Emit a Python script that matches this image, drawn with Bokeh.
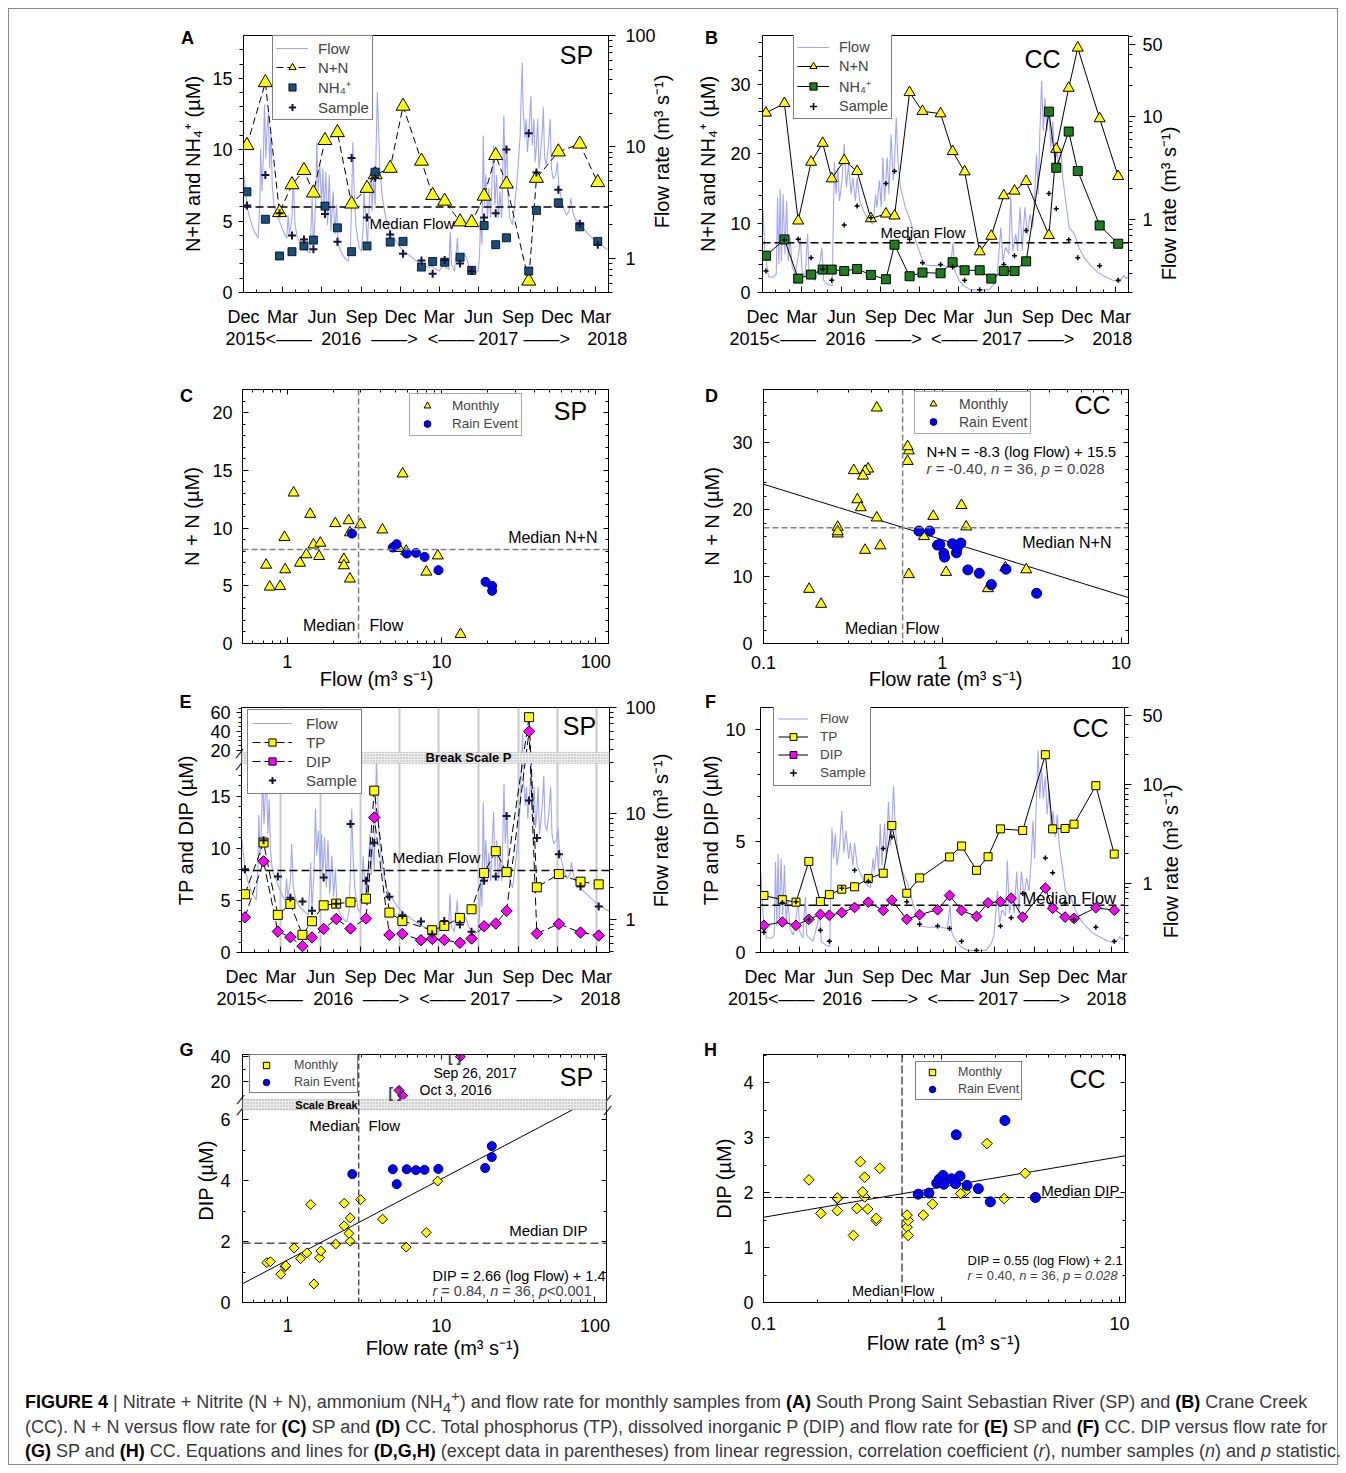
import numpy as np
import pandas as pd
from bokeh.plotting import figure
from bokeh.models import (Range1d, LogScale, LinearAxis, LogAxis, FixedTicker,
                          CustomJSTickFormatter, Label, Legend, LegendItem,
                          BoxAnnotation, Span, Div)
from bokeh.layouts import column, row
from bokeh.embed import file_html
from bokeh.resources import INLINE

FONT = "Liberation Sans"

# ====================== DATA ======================
T0 = "2015-12-01"

# --- South Prong (SP) monthly samples ---
sp_dates = ["2015-12-09", "2016-01-21", "2016-02-23", "2016-03-23", "2016-04-20",
            "2016-05-12", "2016-06-08", "2016-07-07", "2016-08-09", "2016-09-14",
            "2016-10-03", "2016-11-07", "2016-12-07", "2017-01-19", "2017-02-14",
            "2017-03-14", "2017-04-19", "2017-05-16", "2017-06-14", "2017-07-11",
            "2017-08-05", "2017-09-26", "2017-10-14", "2017-12-04", "2018-01-23",
            "2018-03-06"]
sp_sample_flow = [2.98, 5.6, 2.55, 1.61, 1.48, 1.21, 2.5, 1.41, 7.98, 2.33, 5.3, 1.64, 1.1,
                  0.96, 0.73, 0.97, 0.90, 0.77, 2.33, 2.55, 9.47, 13.3, 5.9, 4.14, 2.05, 1.33]
sp_nn = [10.3, 14.7, 5.6, 7.55, 8.55, 6.97, 10.65, 11.2, 6.2, 7.3, 8.25, 8.7, 13.05,
         9.2, 6.8, 6.4, 4.95, 4.9, 6.75, 9.6, 7.6, 0.8, 8.0, 9.85, 10.4, 7.7]
sp_nh4 = [7.05, 5.13, 2.56, 2.86, 3.26, 3.67, 6.05, 4.53, 2.86, 3.26, 8.43, 3.53, 3.58,
          1.78, 2.17, 2.12, 2.47, 1.55, 4.69, 3.35, 3.83, 1.5, 5.75, 6.28, 4.6, 3.58]
sp_tp = [5.59, 10.56, 3.61, 4.66, 1.69, 3.0, 4.53, 4.69, 4.82, 5.17, 15.54, 3.83, 3.03,
         np.nan, 2.14, 2.55, 3.32, 4.15, 7.63, 9.73, 7.72, 55.3, 6.26, 7.53, 6.8, 6.54]
sp_dip = [3.38, 8.75, 2.01, 1.47, 0.61, 1.44, 2.27, 3.22, 2.3, 3.26, 12.96, 1.69, 1.79,
          1.18, 1.31, 1.21, 0.93, 1.34, 2.52, 2.78, 3.99, 40.0, 1.82, 2.74, 1.92, 1.63]
# SP rain events
sp_rain_flow = [2.63, 4.83, 5.12, 5.95, 6.83, 7.77, 9.56, 19.3, 21.3, 21.3]
sp_rain_nn = [9.52, 8.31, 8.6, 7.79, 7.85, 7.5, 6.35, 5.34, 4.99, 4.56]
sp_rain_dip = [4.22, 4.38, 3.89, 4.38, 4.35, 4.36, 4.39, 4.42, 5.14, 4.78]

# --- Crane Creek (CC) monthly samples ---
cc_dates = ["2015-12-09", "2016-01-21", "2016-02-22", "2016-03-23", "2016-04-19",
            "2016-05-10", "2016-06-08", "2016-07-08", "2016-08-09", "2016-09-13",
            "2016-10-03", "2016-11-07", "2016-12-07", "2017-01-18", "2017-02-15",
            "2017-03-15", "2017-04-19", "2017-05-16", "2017-06-14", "2017-07-09",
            "2017-08-05", "2017-09-27", "2017-10-14", "2017-11-12", "2017-12-03",
            "2018-01-23", "2018-03-07"]
cc_sample_flow = [0.32, 0.64, 0.65, 0.43, 0.335, 0.26, 0.89, 1.36, 1.05, 2.25, 2.95, 0.65,
                  0.385, 0.37, 0.35, 0.26, 0.21, 0.18, 0.37, 0.45, 0.79, 1.80, 1.28, 0.64,
                  0.43, 0.36, 0.26]
cc_nn = [25.85, 27.23, 10.32, 18.78, 21.5, 16.39, 19.02, 17.44, 10.65, 11.32, 11.04, 28.81,
         26.09, 25.75, 20.31, 17.39, 5.88, 8.12, 13.95, 14.62, 16.0, 8.22, 20.64, 29.43,
         35.21, 25.04, 16.72]
cc_nh4 = [5.3, 7.64, 2.0, 2.58, 3.3, 3.3, 3.1, 3.39, 2.53, 1.91, 6.88, 2.34, 2.87, 2.77,
          4.35, 3.2, 3.2, 2.0, 3.1, 3.1, 4.49, 26.04, 17.96, 23.17, 17.49, 9.65, 7.02]
cc_tp = [2.56, 2.37, 2.26, 4.09, 2.29, 2.6, 2.84, 2.95, 3.32, 3.56, 5.7, 2.66, 3.35, np.nan,
         4.29, 4.78, 3.69, 4.3, 5.55, np.nan, 5.48, 8.88, 5.55, 5.57, 5.76, 7.49, 4.42]
cc_dip = [1.22, 1.37, 1.22, 1.49, 1.71, 1.67, 1.79, 2.02, 2.26, 1.89, 2.35, 1.49, 1.7, 1.92,
          2.56, 1.89, 1.62, 2.23, 2.28, 2.44, 1.59, 2.89, 1.98, 1.59, 1.53, 2.01, 1.9]
# CC rain events
cc_rain_flow = [0.74, 0.85, 0.94, 0.97, 1.02, 1.03, 1.14, 1.20, 1.21, 1.27, 1.39, 1.61,
                1.88, 2.27, 3.37]
cc_rain_nn = [16.8, 16.8, 14.7, 14.8, 13.45, 12.9, 14.9, 13.55, 14.2, 15.0, 11.0, 10.5,
              8.8, 11.1, 7.5]
cc_rain_dip = [1.97, 1.99, 2.17, 2.24, 2.31, 2.15, 2.25, 2.16, 3.05, 2.3, 2.13, 2.07,
               1.83, 3.31, 1.91]

# --- daily flow (days since 2015-12-01), m3/s ---
sp_flow_day = [1, 5, 9, 17, 25, 34, 38, 40, 43, 46, 49, 52, 55, 58, 61, 64, 67, 71, 78, 84,
               90, 96, 101, 104, 107, 113, 116, 120, 126, 134, 141, 149, 155, 160, 163, 168,
               171, 174, 178, 182, 185, 188, 192, 196, 200, 204, 209, 213, 217, 221, 227,
               233, 239, 244, 249, 252, 255, 258, 262, 266, 270, 275, 279, 281, 285, 289,
               293, 297, 300, 303, 307, 309, 312, 315, 318, 323, 329, 335, 343, 353, 363,
               374, 386, 398, 409, 421, 433, 440, 448, 456, 464, 468, 471, 479, 482, 485,
               492, 499, 502, 508, 514, 520, 527, 534, 541, 547, 550, 553, 556, 559, 562,
               565, 569, 572, 576, 580, 583, 586, 590, 594, 598, 602, 605, 607, 610, 614,
               617, 621, 627, 632, 637, 641, 645, 648, 650, 652, 656, 659, 662, 665, 668,
               670, 673, 677, 680, 683, 686, 689, 693, 697, 699, 702, 706, 711, 715, 718,
               722, 728, 732, 735, 741, 747, 753, 759, 763, 767, 772, 778, 786, 798, 809,
               821, 833, 840, 850]
sp_flow = [5.6, 4.0, 2.8, 2.15, 1.75, 1.53, 3.0, 9.7, 4.0, 7.3, 24, 7.9, 14.6, 20.5, 6.4,
           13.6, 4.6, 3.0, 2.45, 2.15, 1.87, 1.64, 1.53, 2.45, 1.64, 2.3, 5.2, 2.0, 1.53, 1.33,
           1.24, 1.16, 1.12, 3.47, 1.24, 3.0, 11.1, 4.0, 6.9, 3.0, 6.4, 2.64, 6.0, 2.0, 5.6,
           1.75, 4.0, 1.64, 3.0, 1.33, 1.16, 1.05, 0.98, 0.95, 1.24, 3.0, 11.1, 4.0, 2.0, 1.53,
           1.24, 1.16, 1.87, 4.0, 2.3, 1.33, 3.0, 6.4, 2.64, 5.6, 3.0, 9.0, 31, 14.6, 6.4, 3.7,
           2.64, 2.0, 1.69, 1.48, 1.29, 1.16, 1.07, 0.98, 0.91, 0.855, 0.83, 0.855, 0.80, 0.77,
           0.855, 1.01, 0.83, 0.80, 1.75, 0.88, 0.77, 1.53, 0.88, 1.01, 1.12, 1.01, 0.83, 0.77,
           0.745, 0.77, 1.01, 2.3, 1.33, 12.7, 3.0, 5.6, 2.3, 4.26, 2.3, 5.6, 10.3, 3.0, 5.6,
           2.3, 4.0, 2.3, 7.9, 19.1, 5.2, 10.3, 3.47, 2.3, 2.0, 3.0, 4.6, 7.3, 12.7, 35, 57, 22,
           11.9, 17.9, 9.0, 12.7, 20.5, 28.8, 10.3, 17.9, 7.3, 10.3, 17.9, 6.4, 9.0, 14.6,
           22.7, 7.9, 6.9, 10.3, 17.9, 6.4, 5.2, 5.6, 7.3, 4.6, 3.47, 2.8, 2.45, 2.64, 3.47,
           2.73, 2.3, 2.15, 1.94, 1.75, 1.58, 1.43, 1.33, 1.26, 1.2]
cc_flow_day = [1, 6, 14, 26, 32, 35, 38, 41, 44, 48, 52, 56, 60, 64, 69, 76, 84, 88, 92, 99,
               105, 108, 115, 123, 134, 138, 142, 151, 162, 167, 171, 175, 179, 185, 190,
               195, 200, 206, 210, 216, 220, 226, 235, 247, 257, 263, 266, 272, 276, 280,
               284, 290, 294, 299, 304, 307, 311, 315, 321, 332, 344, 356, 367, 375, 391,
               406, 422, 437, 443, 447, 457, 468, 484, 507, 527, 538, 546, 554, 559, 565,
               573, 577, 582, 589, 593, 599, 604, 610, 616, 622, 628, 633, 637, 641, 645,
               649, 653, 657, 661, 666, 670, 675, 680, 684, 689, 694, 698, 705, 713, 725,
               736, 748, 763, 779, 798, 814, 830, 840, 845, 851]
cc_flow = [1.27, 0.47, 0.28, 0.28, 0.30, 1.64, 0.37, 1.98, 0.40, 1.77, 0.47, 1.52, 0.40,
           0.68, 0.35, 0.30, 0.47, 0.68, 0.32, 0.28, 0.73, 0.30, 0.28, 0.26, 0.40, 0.54, 0.26,
           0.24, 0.23, 3.6, 1.77, 3.2, 1.52, 2.4, 5.4, 2.05, 3.4, 1.77, 2.56, 1.52, 2.56,
           1.52, 1.22, 0.98, 0.91, 1.77, 1.32, 2.4, 1.32, 4.0, 1.52, 4.0, 1.77, 6.7, 2.4, 3.7,
           9.7, 3.7, 2.05, 1.32, 0.98, 0.63, 0.47, 0.37, 0.36, 0.36, 0.36, 0.35, 0.60, 0.32,
           0.26, 0.23, 0.21, 0.21, 0.21, 0.24, 0.30, 0.84, 0.40, 0.54, 0.47, 1.70, 0.50, 0.73,
           0.50, 1.32, 0.50, 1.32, 0.73, 1.13, 0.84, 1.77, 4.3, 1.77, 7.2, 22, 7.2, 15.1, 7.2,
           12.1, 5.0, 9.0, 3.2, 5.4, 2.97, 5.0, 2.56, 1.52, 0.84, 0.73, 0.54, 0.43, 0.36,
           0.31, 0.28, 0.26, 0.25, 0.29, 0.27, 0.28]

sp_median_flow, cc_median_flow = 2.9, 0.60
sp_median_nn, cc_median_nn = 8.15, 17.3
sp_median_dip, cc_median_dip = 1.95, 1.91
d_fit = (-8.3, 15.5)   # N+N = a log(Flow) + b, CC
g_fit = (2.66, 1.4)    # DIP, SP
h_fit = (0.55, 2.1)    # DIP, CC

month_labels = ["Dec", "Mar", "Jun", "Sep", "Dec", "Mar", "Jun", "Sep", "Dec", "Mar"]
year_labels = ["2015<——", "2016", "——>", "<——", "2017", "——>", "2018"]

# ====================== HELPERS ======================
YEL, MAG, BLU, FLOWC = "#ffff00", "#ff00ff", "#0000ff", "#a3a6f5"
NH4_SP, NH4_CC = "#17507e", "#1b7d1b"


def days_since(dates):
    t0 = pd.Timestamp(T0)
    return [(pd.Timestamp(d) - t0).days for d in dates]


sp_x = days_since(sp_dates)
cc_x = days_since(cc_dates)
q_days = days_since(pd.date_range("2015-12-01", "2018-03-01", freq="3MS"))
m_days = days_since(pd.date_range("2015-12-01", "2018-04-01", freq="MS"))
X_END = 851


def fmt(ticks, labels):
    return CustomJSTickFormatter(args=dict(t=[float(v) for v in ticks], l=list(labels)), code="""
        for (let i = 0; i < t.length; i++) {
            if (Math.abs(t[i] - tick) <= 1e-6 * Math.max(1, Math.abs(tick))) return l[i];
        }
        return "";
    """)


def log_minor(lo, hi, skip=()):
    out = []
    for dec in [0.01, 0.1, 1, 10, 100]:
        for m in range(2, 10):
            v = round(m * dec, 6)
            if lo <= v <= hi and v not in skip:
                out.append(v)
    return out


def mk_fig(w, h, L, R, T, B, xr, yr, xlog=False):
    p = figure(width=w, height=h, x_range=xr, y_range=yr,
               x_axis_type="log" if xlog else "linear",
               output_backend="svg", toolbar_location=None, title=None,
               min_border_left=L, min_border_right=R, min_border_top=T, min_border_bottom=B)
    p.outline_line_color = "black"
    p.outline_line_width = 1
    p.xgrid.visible = False
    p.ygrid.visible = False
    p.background_fill_color = "white"
    p.border_fill_alpha = 0
    return p


def style_axis(ax, ticks, labels, minor, inward=False, size="18px", maj=6, mnr=4, standoff=6):
    ax.ticker = FixedTicker(ticks=list(ticks), minor_ticks=list(minor))
    ax.formatter = fmt(ticks, labels)
    ax.major_label_text_font = FONT
    ax.major_label_text_font_size = size
    ax.major_label_text_color = "black"
    ax.major_label_standoff = standoff
    ax.axis_label_text_font = FONT
    ax.axis_label_text_font_size = "20px"
    ax.axis_label_text_font_style = "normal"
    ax.axis_label_text_color = "black"
    ax.axis_line_color = "black"
    ax.major_tick_line_color = "black"
    ax.minor_tick_line_color = "black"
    if inward:
        ax.major_tick_in, ax.major_tick_out = maj, 0
        ax.minor_tick_in, ax.minor_tick_out = mnr, 0
    else:
        ax.major_tick_in, ax.major_tick_out = 0, maj
        ax.minor_tick_in, ax.minor_tick_out = 0, mnr


def mirror(p, side, ticks, minor, log=False, maj=5, mnr=3):
    ax = (LogAxis() if log else LinearAxis())
    style_axis(ax, ticks, ["" for _ in ticks], minor, inward=True, maj=maj, mnr=mnr, size="1px", standoff=0)
    ax.formatter = fmt([], [])
    p.add_layout(ax, side)


def lab(p, x, y, text, size="15px", align="left", style="normal", angle=0.0, xu="screen"):
    """text inside the plot frame, offsets from the frame's bottom-left corner"""
    p.add_layout(Label(x=x, y=y, x_units=xu, y_units="screen", text=text, text_font=FONT,
                       text_font_size=size, text_align=align, text_baseline="middle",
                       text_font_style=style, text_color="black", angle=angle))


def labc(p, x, y, text, size="18px", align="center", style="normal", angle=0.0, place="left"):
    """text outside the frame, in canvas pixels of the figure (from its top-left)"""
    p.add_layout(Label(x=x, y=y, x_units="canvas", y_units="canvas", text=text, text_font=FONT,
                       text_font_size=size, text_align=align, text_baseline="middle",
                       text_font_style=style, text_color="black", angle=angle), place)


AW = {' ': 0.278, ',': 0.278, '.': 0.278, '=': 0.584, '-': 0.333, '+': 0.584, '<': 0.584,
      '(': 0.333, ')': 0.333, 'r': 0.333, 'n': 0.556, 'p': 0.556, 'l': 0.222, 'o': 0.556,
      'g': 0.556, 'F': 0.611, 'w': 0.722, 'D': 0.722, 'I': 0.278, 'P': 0.667, 'N': 0.722}


def rich(p, x, y, segs, px):
    for text, style in segs:
        lead = len(text) - len(text.lstrip(' '))
        t = text.strip(' ')
        if t:
            p.add_layout(Label(x=x + lead * AW[' '] * px, y=y, x_units="screen", y_units="screen",
                               text=t, text_font=FONT, text_font_size=f"{px}px",
                               text_font_style=style, text_align="left", text_baseline="middle"))
        x += sum(AW.get(c, 0.556) for c in text) * px


def add_legend(p, items, loc, size, glyph_w=30, item_h=18, padding=4, spacing=1, standoff=8,
               border="black"):
    leg = Legend(items=[LegendItem(label=l, renderers=r) for l, r in items], location=loc,
                 label_text_font=FONT, label_text_font_size=size,
                 glyph_width=glyph_w, glyph_height=item_h, label_height=item_h,
                 label_standoff=standoff, spacing=spacing, padding=padding, margin=0,
                 border_line_color=border, border_line_width=1,
                 background_fill_color="white", background_fill_alpha=1)
    p.add_layout(leg)


def time_axis(p, year_x, s1=14, s2=-1):
    style_axis(p.xaxis[0], q_days, month_labels, m_days, inward=True, size="18px",
               maj=6, mnr=3, standoff=s1)
    ya = LinearAxis(ticker=FixedTicker(ticks=list(year_x)), formatter=fmt(year_x, year_labels))
    ya.major_tick_line_color = None
    ya.minor_tick_line_color = None
    ya.axis_line_color = None
    ya.major_tick_in = ya.major_tick_out = 0
    ya.minor_tick_in = ya.minor_tick_out = 0
    ya.major_label_text_font = FONT
    ya.major_label_text_font_size = "18px"
    ya.major_label_text_color = "black"
    ya.major_label_standoff = s2
    p.add_layout(ya, "below")


def flow_axis(p, rng, ticks, labels, standoff):
    p.extra_y_ranges = {"flow": Range1d(*rng)}
    p.extra_y_scales = {"flow": LogScale()}
    ax = LogAxis(y_range_name="flow")
    style_axis(ax, ticks, labels, log_minor(rng[0], rng[1], skip=tuple(ticks)),
               standoff=standoff, maj=7, mnr=4)
    p.add_layout(ax, "right")


# broken-axis mappings (display coordinate of a value)
def e_map(v):
    return v if v <= 18 else 19.44 + (v - 20) * 0.0893


def g_map(v):
    return v if v <= 6.3 else 7.26 + (v - 20) * 0.041


FLOW_T = "Flow rate (m³ s⁻¹)"

# ====================== PANEL A ======================
pA = mk_fig(690, 365, 243, 82, 35, 70, Range1d(0, X_END), Range1d(0, 18))
flow_axis(pA, (0.495, 100), [1, 10, 100], ["1", "10", "100"], 10)
style_axis(pA.yaxis[0], [0, 5, 10, 15], ["0", "5", "10", "15"],
           [v for v in range(1, 18) if v % 5], standoff=6, maj=5, mnr=4)
pA.yaxis[0].axis_label = "N+N and NH₄⁺ (µM)"
pA.yaxis[0].axis_label_standoff = 5
time_axis(pA, [59, 228, 352, 484, 594, 707, 848])
rA_flow = pA.line(sp_flow_day, sp_flow, y_range_name="flow", color=FLOWC, line_width=1.1)
pA.line([0, X_END], [sp_median_flow] * 2, y_range_name="flow", color="black",
        line_dash="8 4", line_width=1.5)
rA_nnl = pA.line(sp_x, sp_nn, color="black", line_dash="7 4", line_width=1)
rA_nn = pA.scatter(sp_x, sp_nn, marker="triangle", size=14, fill_color=YEL, line_color="black")
rA_nh = pA.scatter(sp_x, sp_nh4, marker="square", size=8, fill_color=NH4_SP, line_color="black",
                   line_width=0.8)
rA_s = pA.scatter(sp_x, sp_sample_flow, y_range_name="flow", marker="cross", size=8,
                  line_color="#141438", line_width=2)
add_legend(pA, [("Flow", [rA_flow]), ("N+N", [rA_nnl, rA_nn]), ("NH₄⁺", [rA_nh]),
                ("Sample", [rA_s])], (29, 172), "15px", glyph_w=32, item_h=18, padding=3,
           standoff=10)
lab(pA, 333, 238, "SP", "25px", "center")
lab(pA, 126, 69, "Median Flow", "15px")
labc(pA, 187, 37, "A", "18px", style="bold")
labc(pA, 661, 151, FLOW_T, "20px", angle=np.pi / 2, place="right")

# ====================== PANEL B ======================
pB = mk_fig(656, 365, 72, 218, 34, 73, Range1d(0, X_END), Range1d(0, 37))
flow_axis(pB, (0.198, 60.8), [1, 10, 50], ["1", "10", "50"], 7)
style_axis(pB.yaxis[0], [0, 10, 20, 30], ["0", "10", "20", "30"],
           [v for v in range(2, 37, 2) if v % 10], standoff=7, maj=5, mnr=4)
pB.yaxis[0].axis_label = "N+N and NH₄⁺ (µM)"
pB.yaxis[0].axis_label_standoff = 8
time_axis(pB, [24, 193, 316, 446, 557, 671, 813])
rB_flow = pB.line(cc_flow_day, cc_flow, y_range_name="flow", color=FLOWC, line_width=1.1)
pB.line([0, X_END], [cc_median_flow] * 2, y_range_name="flow", color="black",
        line_dash="8 4", line_width=1.5)
rB_nnl = pB.line(cc_x, cc_nn, color="black", line_width=1)
rB_nn = pB.scatter(cc_x, cc_nn, marker="triangle", size=11, fill_color=YEL, line_color="black")
rB_nhl = pB.line(cc_x, cc_nh4, color="black", line_width=1)
rB_nh = pB.scatter(cc_x, cc_nh4, marker="square", size=9, fill_color=NH4_CC, line_color="black")
rB_s = pB.scatter(cc_x, cc_sample_flow, y_range_name="flow", marker="cross", size=5,
                  line_color="black", line_width=1.5)
add_legend(pB, [("Flow", [rB_flow]), ("N+N", [rB_nnl, rB_nn]), ("NH₄⁺", [rB_nhl, rB_nh]),
                ("Sample", [rB_s])], (31, 173), "14.5px", glyph_w=32, item_h=18, padding=3,
           standoff=10)
lab(pB, 280, 234, "CC", "25px", "center")
lab(pB, 118, 60, "Median Flow", "15px")
labc(pB, 21, 37, "B", "18px", style="bold", place="right")
labc(pB, 478, 203, FLOW_T, "20px", angle=np.pi / 2, place="right")

# ====================== PANEL C ======================
pC = mk_fig(690, 325, 242, 82, 24, 47, Range1d(0.513, 121), Range1d(0, 22), xlog=True)
style_axis(pC.xaxis[0], [1, 10, 100], ["1", "10", "100"], log_minor(0.513, 121),
           inward=True, standoff=11, maj=6, mnr=3)
style_axis(pC.yaxis[0], [0, 5, 10, 15, 20], ["0", "5", "10", "15", "20"],
           [v for v in range(1, 22) if v % 5], inward=True, standoff=10, maj=6, mnr=3)
pC.yaxis[0].axis_label = "N + N (µM)"
pC.yaxis[0].axis_label_standoff = 6
mirror(pC, "above", [1, 10, 100], log_minor(0.513, 121), log=True)
mirror(pC, "right", [0, 5, 10, 15, 20], [v for v in range(1, 22) if v % 5])
pC.add_layout(Span(location=sp_median_flow, dimension="height", line_color="#808080",
                   line_dash="6 3", line_width=1.5))
pC.add_layout(Span(location=sp_median_nn, dimension="width", line_color="#808080",
                   line_dash="6 3", line_width=1.5))
rC_m = pC.scatter(sp_sample_flow, sp_nn, marker="triangle", size=11, fill_color=YEL,
                  line_color="black")
rC_r = pC.scatter(sp_rain_flow, sp_rain_nn, marker="circle", size=9, fill_color=BLU,
                  line_color="#000060")
add_legend(pC, [("Monthly", [rC_m]), ("Rain Event", [rC_r])], (167, 207), "13.5px",
           glyph_w=28, item_h=17, padding=3, standoff=11, border="#555555")
lab(pC, 328, 233, "SP", "25px", "center")
lab(pC, 113, 18, "Median", "16px", "right")
lab(pC, 127, 18, "Flow", "16px", "left")
lab(pC, 355, 106, "Median N+N", "16px", "right")
labc(pC, 186, 30, "C", "18px", style="bold")
labc(pC, 376, 313, "Flow (m³ s⁻¹)", "20px", place="left")

# ====================== PANEL D ======================
pD = mk_fig(656, 325, 73, 218, 22, 46, Range1d(0.1, 11), Range1d(0, 37.95), xlog=True)
style_axis(pD.xaxis[0], [0.1, 1, 10], ["0.1", "1", "10"], log_minor(0.1, 11),
           inward=True, standoff=12, maj=6, mnr=3)
style_axis(pD.yaxis[0], [0, 10, 20, 30], ["0", "10", "20", "30"],
           [v for v in range(2, 38, 2) if v % 10], inward=True, standoff=11, maj=6, mnr=3)
pD.yaxis[0].axis_label = "N + N (µM)"
pD.yaxis[0].axis_label_standoff = 6
mirror(pD, "above", [0.1, 1, 10], log_minor(0.1, 11), log=True)
mirror(pD, "right", [0, 10, 20, 30], [v for v in range(2, 38, 2) if v % 10])
pD.add_layout(Span(location=cc_median_flow, dimension="height", line_color="#808080",
                   line_dash="6 3", line_width=1.5))
pD.add_layout(Span(location=cc_median_nn, dimension="width", line_color="#808080",
                   line_dash="6 3", line_width=1.5))
xsD = np.logspace(np.log10(0.1), np.log10(11), 40)
pD.line(xsD, d_fit[0] * np.log10(xsD) + d_fit[1], color="black", line_width=1)
rD_m = pD.scatter(cc_sample_flow, cc_nn, marker="triangle", size=11, fill_color=YEL,
                  line_color="black")
rD_r = pD.scatter(cc_rain_flow, cc_rain_nn, marker="circle", size=10, fill_color=BLU,
                  line_color="#000060")
add_legend(pD, [("Monthly", [rD_m]), ("Rain Event", [rD_r])], (151, 209), "14px",
           glyph_w=30, item_h=17, padding=3, standoff=11, border="#555555")
lab(pD, 329, 239, "CC", "25px", "center")
lab(pD, 134, 15, "Median", "16px", "right")
lab(pD, 142, 15, "Flow", "16px", "left")
lab(pD, 348, 101, "Median N+N", "16px", "right")
lab(pD, 163, 192, "N+N = -8.3 (log Flow) + 15.5", "15px")
rich(pD, 163, 175, [("r", "italic"), (" = -0.40, ", "normal"), ("n", "italic"),
                    (" = 36, ", "normal"), ("p", "italic"), (" = 0.028", "normal")], 15)
labc(pD, 21, 30, "D", "18px", style="bold", place="right")
labc(pD, 255, 313, FLOW_T, "20px", place="right")

# ====================== PANEL E ======================
E_TOP = 23.52
pE = mk_fig(690, 330, 241, 81, 17, 67, Range1d(0, X_END), Range1d(0, E_TOP))
flow_axis(pE, (0.49, 100), [1, 10, 100], ["1", "10", "100"], 9)
e_ticks = [0, 5, 10, 15, e_map(20), e_map(40), e_map(60)]
e_minor = [v for v in range(1, 18) if v % 5] + [e_map(v) for v in (25, 30, 35, 45, 50, 55, 65)]
style_axis(pE.yaxis[0], e_ticks, ["0", "5", "10", "15", "20", "40", "60"], e_minor,
           standoff=6, maj=5, mnr=3)
pE.yaxis[0].axis_label = "TP and DIP (µM)"
pE.yaxis[0].axis_label_standoff = 10
time_axis(pE, [42, 212, 334, 465, 575, 689, 830])
pE.xgrid.visible = True
pE.xgrid.ticker = FixedTicker(ticks=q_days)
pE.xgrid.grid_line_color = "#c8c8c8"
pE.xgrid.grid_line_width = 2
pE.add_layout(BoxAnnotation(bottom=18.16, top=19.21, fill_color="#ececec", fill_alpha=1,
                            hatch_pattern="dot", hatch_color="#a8a8a8", hatch_scale=3,
                            line_color="#909090", line_width=1))
rE_flow = pE.line(sp_flow_day, sp_flow, y_range_name="flow", color=FLOWC, line_width=1.1)
pE.line([0, X_END], [sp_median_flow] * 2, y_range_name="flow", color="black",
        line_dash="8 4", line_width=1.5)
tp_ok = [i for i, v in enumerate(sp_tp) if not np.isnan(v)]
eTP_x = [sp_x[i] for i in tp_ok]
eTP_y = [e_map(sp_tp[i]) for i in tp_ok]
eDIP_y = [e_map(v) for v in sp_dip]
rE_tpl = pE.line(eTP_x, eTP_y, color="black", line_dash="8 4", line_width=1)
rE_dipl = pE.line(sp_x, eDIP_y, color="black", line_dash="8 4", line_width=1)
rE_tp = pE.scatter(eTP_x, eTP_y, marker="square", size=9, fill_color=YEL, line_color="black")
rE_dip = pE.scatter(sp_x, eDIP_y, marker="square", angle=np.pi / 4, size=8, fill_color=MAG,
                    line_color="black")
rE_s = pE.scatter(sp_x, sp_sample_flow, y_range_name="flow", marker="cross", size=8,
                  line_color="#141438", line_width=2)
add_legend(pE, [("Flow", [rE_flow]), ("TP", [rE_tpl, rE_tp]), ("DIP", [rE_dipl, rE_dip]),
                ("Sample", [rE_s])], (6, 158), "15px", glyph_w=40, item_h=18, standoff=14)
lab(pE, 338, 227, "SP", "25px", "center")
lab(pE, 151, 95, "Median Flow", "15.5px")
lab(pE, 227, 195, "Break Scale P", "13px", "center", "bold")
labc(pE, 185, 11, "E", "18px", style="bold")
labc(pE, 660, 140, FLOW_T, "20px", angle=np.pi / 2, place="right")
labc(pE, 239, 63, "/", "15px", angle=-0.4)
labc(pE, 239, 75, "/", "15px", angle=-0.4)

# ====================== PANEL F ======================
pF = mk_fig(656, 330, 70, 222, 15, 68, Range1d(0, X_END), Range1d(0, 11))
flow_axis(pF, (0.2, 60), [1, 10, 50], ["1", "10", "50"], 11)
style_axis(pF.yaxis[0], [0, 5, 10], ["0", "5", "10"], [v for v in range(1, 11) if v % 5],
           standoff=10, maj=5, mnr=3)
pF.yaxis[0].axis_label = "TP and DIP (µM)"
pF.yaxis[0].axis_label_standoff = 0
time_axis(pF, [25, 191, 314, 445, 556, 669, 809])
rF_flow = pF.line(cc_flow_day, cc_flow, y_range_name="flow", color=FLOWC, line_width=1.1)
pF.line([0, X_END], [cc_median_flow] * 2, y_range_name="flow", color="black",
        line_dash="8 4", line_width=1.5)
ctp_ok = [i for i, v in enumerate(cc_tp) if not np.isnan(v)]
fTP_x = [cc_x[i] for i in ctp_ok]
fTP_y = [cc_tp[i] for i in ctp_ok]
rF_tpl = pF.line(fTP_x, fTP_y, color="black", line_width=1)
rF_dipl = pF.line(cc_x, cc_dip, color="black", line_width=1)
rF_tp = pF.scatter(fTP_x, fTP_y, marker="square", size=8, fill_color=YEL, line_color="black")
rF_dip = pF.scatter(cc_x, cc_dip, marker="square", angle=np.pi / 4, size=7.5, fill_color=MAG,
                    line_color="black")
rF_s = pF.scatter(cc_x, cc_sample_flow, y_range_name="flow", marker="cross", size=5,
                  line_color="black", line_width=1.5)
add_legend(pF, [("Flow", [rF_flow]), ("TP", [rF_tpl, rF_tp]), ("DIP", [rF_dipl, rF_dip]),
                ("Sample", [rF_s])], (13, 166), "13.5px", glyph_w=30, item_h=17, standoff=12)
lab(pF, 330, 225, "CC", "25px", "center")
lab(pF, 262, 55, "Median Flow", "16.5px")
labc(pF, 20, 11, "F", "18px", style="bold", place="right")
labc(pF, 480, 171, FLOW_T, "20px", angle=np.pi / 2, place="right")

# ====================== PANEL G ======================
pG = mk_fig(690, 350, 242, 84, 34, 67, Range1d(0.507, 119), Range1d(0, 8.15), xlog=True)
style_axis(pG.xaxis[0], [1, 10, 100], ["1", "10", "100"], log_minor(0.507, 119),
           inward=True, standoff=16, maj=6, mnr=3)
g_ticks = [0, 2, 4, 6, g_map(20), g_map(40)]
g_minor = [1, 3, 5, g_map(30)]
style_axis(pG.yaxis[0], g_ticks, ["0", "2", "4", "6", "20", "40"], g_minor,
           inward=True, standoff=12, maj=6, mnr=3)
mirror(pG, "above", [1, 10, 100], log_minor(0.507, 119), log=True)
mirror(pG, "right", g_ticks, g_minor)
pG.add_layout(BoxAnnotation(bottom=6.33, top=6.68, fill_color="#ececec", fill_alpha=1,
                            hatch_pattern="dot", hatch_color="#a8a8a8", hatch_scale=3,
                            line_color="#909090", line_width=1))
pG.add_layout(Span(location=sp_median_flow, dimension="height", line_color="black",
                   line_dash="6 3", line_width=1))
pG.add_layout(Span(location=sp_median_dip, dimension="width", line_color="black",
                   line_dash="8 4", line_width=1))
xg_end = 10 ** ((6.33 - g_fit[1]) / g_fit[0])
xsG = np.logspace(np.log10(0.507), np.log10(xg_end), 40)
pG.line(xsG, g_fit[0] * np.log10(xsG) + g_fit[1], color="black", line_width=1)
lo_i = [i for i, v in enumerate(sp_dip) if v <= 6.3]
hi_i = [i for i, v in enumerate(sp_dip) if v > 6.3]
rG_m = pG.scatter([sp_sample_flow[i] for i in lo_i], [sp_dip[i] for i in lo_i], marker="square",
                  angle=np.pi / 4, size=7, fill_color=YEL, line_color="black")
pG.scatter([sp_sample_flow[i] for i in hi_i], [g_map(sp_dip[i]) for i in hi_i], marker="square",
           angle=np.pi / 4, size=7, fill_color=MAG, line_color="black")
rG_r = pG.scatter(sp_rain_flow, sp_rain_dip, marker="circle", size=9, fill_color=BLU,
                  line_color="#000060")
for grp in ([i for i in hi_i if sp_dip[i] > 20], [i for i in hi_i if sp_dip[i] <= 20]):
    fx = float(np.exp(np.mean([np.log(sp_sample_flow[i]) for i in grp])))
    fy = float(np.mean([g_map(sp_dip[i]) for i in grp]))
    pG.add_layout(Label(x=fx, y=fy, text="[    ]", text_font=FONT, text_font_size="14px",
                        text_font_style="bold", text_align="center", text_baseline="middle"))
add_legend(pG, [("Monthly", [rG_m]), ("Rain Event", [rG_r])], (7, 209), "12.5px",
           glyph_w=28, item_h=16, padding=2, standoff=14)
lab(pG, 334, 226, "SP", "25px", "center")
lab(pG, 84, 198, "Scale Break", "11px", "center", "bold")
lab(pG, 116, 177, "Median", "15px", "right")
lab(pG, 126, 177, "Flow", "15px", "left")
lab(pG, 345, 72, "Median DIP", "15px", "right")
lab(pG, 191, 230, "Sep 26, 2017", "14px")
lab(pG, 177, 213, "Oct 3, 2016", "14px")
lab(pG, 190, 27, "DIP = 2.66 (log Flow) + 1.4", "14.5px")
rich(pG, 190, 12, [("r", "italic"), (" = 0.84, ", "normal"), ("n", "italic"),
                   (" = 36, ", "normal"), ("p", "italic"), ("<0.001", "normal")], 14.5)
labc(pG, 186, 29, "G", "18px", style="bold")
labc(pG, 205, 160, "DIP (µM)", "20px", angle=np.pi / 2)
labc(pG, 442, 327, FLOW_T, "20px", place="below")
for yy in (79, 90):
    labc(pG, 240, yy, "/", "15px", angle=-0.4)
    labc(pG, 607, yy, "/", "15px", angle=-0.4, place="right")

# ====================== PANEL H ======================
pH = mk_fig(656, 350, 73, 221, 33, 68, Range1d(0.1, 10.8), Range1d(0, 4.51), xlog=True)
style_axis(pH.xaxis[0], [0.1, 1, 10], ["0.1", "1", "10"], log_minor(0.1, 10.8),
           inward=True, standoff=14, maj=6, mnr=3)
style_axis(pH.yaxis[0], [0, 1, 2, 3, 4], ["0", "1", "2", "3", "4"], [0.5, 1.5, 2.5, 3.5, 4.5],
           inward=True, standoff=10, maj=6, mnr=3)
pH.yaxis[0].axis_label = "DIP (µM)"
pH.yaxis[0].axis_label_standoff = 5
mirror(pH, "above", [0.1, 1, 10], log_minor(0.1, 10.8), log=True)
mirror(pH, "right", [0, 1, 2, 3, 4], [0.5, 1.5, 2.5, 3.5, 4.5])
pH.add_layout(Span(location=cc_median_flow, dimension="height", line_color="black",
                   line_dash="8 3", line_width=1))
pH.add_layout(Span(location=cc_median_dip, dimension="width", line_color="black",
                   line_dash="8 3", line_width=1))
xsH = np.logspace(np.log10(0.1), np.log10(10.8), 40)
pH.line(xsH, h_fit[0] * np.log10(xsH) + h_fit[1], color="black", line_width=1)
rH_m = pH.scatter(cc_sample_flow, cc_dip, marker="square", angle=np.pi / 4, size=7.5,
                  fill_color=YEL, line_color="black")
rH_r = pH.scatter(cc_rain_flow, cc_rain_dip, marker="circle", size=10, fill_color=BLU,
                  line_color="#000060")
add_legend(pH, [("Monthly", [rH_m]), ("Rain Event", [rH_r])], (152, 202), "12.5px",
           glyph_w=28, item_h=16, padding=2, standoff=12)
lab(pH, 324, 224, "CC", "25px", "center")
lab(pH, 136, 12, "Median", "14.5px", "right")
lab(pH, 140, 12, "Flow", "14.5px", "left")
lab(pH, 356, 112, "Median DIP", "15px", "right")
lab(pH, 204, 42, "DIP = 0.55 (log Flow) + 2.1", "13px")
rich(pH, 204, 27, [("r", "italic"), (" = 0.40, ", "normal"), ("n", "italic"),
                   (" = 36, ", "normal"), ("p = 0.028", "italic")], 13)
labc(pH, 20, 29, "H", "18px", style="bold", place="right")
labc(pH, 253, 322, FLOW_T, "20px", place="right")

# ====================== CAPTION ======================
caption_html = (
    '<div style="position:relative; left:25px; top:20px; font-family:\'Liberation Sans\',Arial,'
    'sans-serif; font-size:18px; line-height:24.6px; color:#3a3a3a; white-space:nowrap;">'
    '<b style="color:#000">FIGURE 4</b> | Nitrate + Nitrite (N + N), ammonium '
    '(NH<sub style="line-height:0">4</sub><sup style="line-height:0">+</sup>) and flow rate for '
    'monthly samples from <b style="color:#000">(A)</b> South Prong Saint Sebastian River (SP) and '
    '<b style="color:#000">(B)</b> Crane Creek<br>'
    '(CC). N + N versus flow rate for <b style="color:#000">(C)</b> SP and '
    '<b style="color:#000">(D)</b> CC. Total phosphorus (TP), dissolved inorganic P (DIP) and flow '
    'rate for <b style="color:#000">(E)</b> SP and <b style="color:#000">(F)</b> CC. DIP versus '
    'flow rate for<br>'
    '<b style="color:#000">(G)</b> SP and <b style="color:#000">(H)</b> CC. Equations and lines for '
    '<b style="color:#000">(D,G,H)</b> (except data in parentheses) from linear regression, '
    'correlation coefficient (<i>r</i>), number samples (<i>n</i>) and <i>p</i> statistic.'
    '</div>')
cap = Div(text=caption_html, width=1346, height=103, margin=0)

root = column(row(pA, pB), row(pC, pD), row(pE, pF), row(pG, pH), cap,
              styles={"outline": "1px solid #8c8c8c", "outline-offset": "-9px"})

open("out.html", "w").write(file_html(root, INLINE))
